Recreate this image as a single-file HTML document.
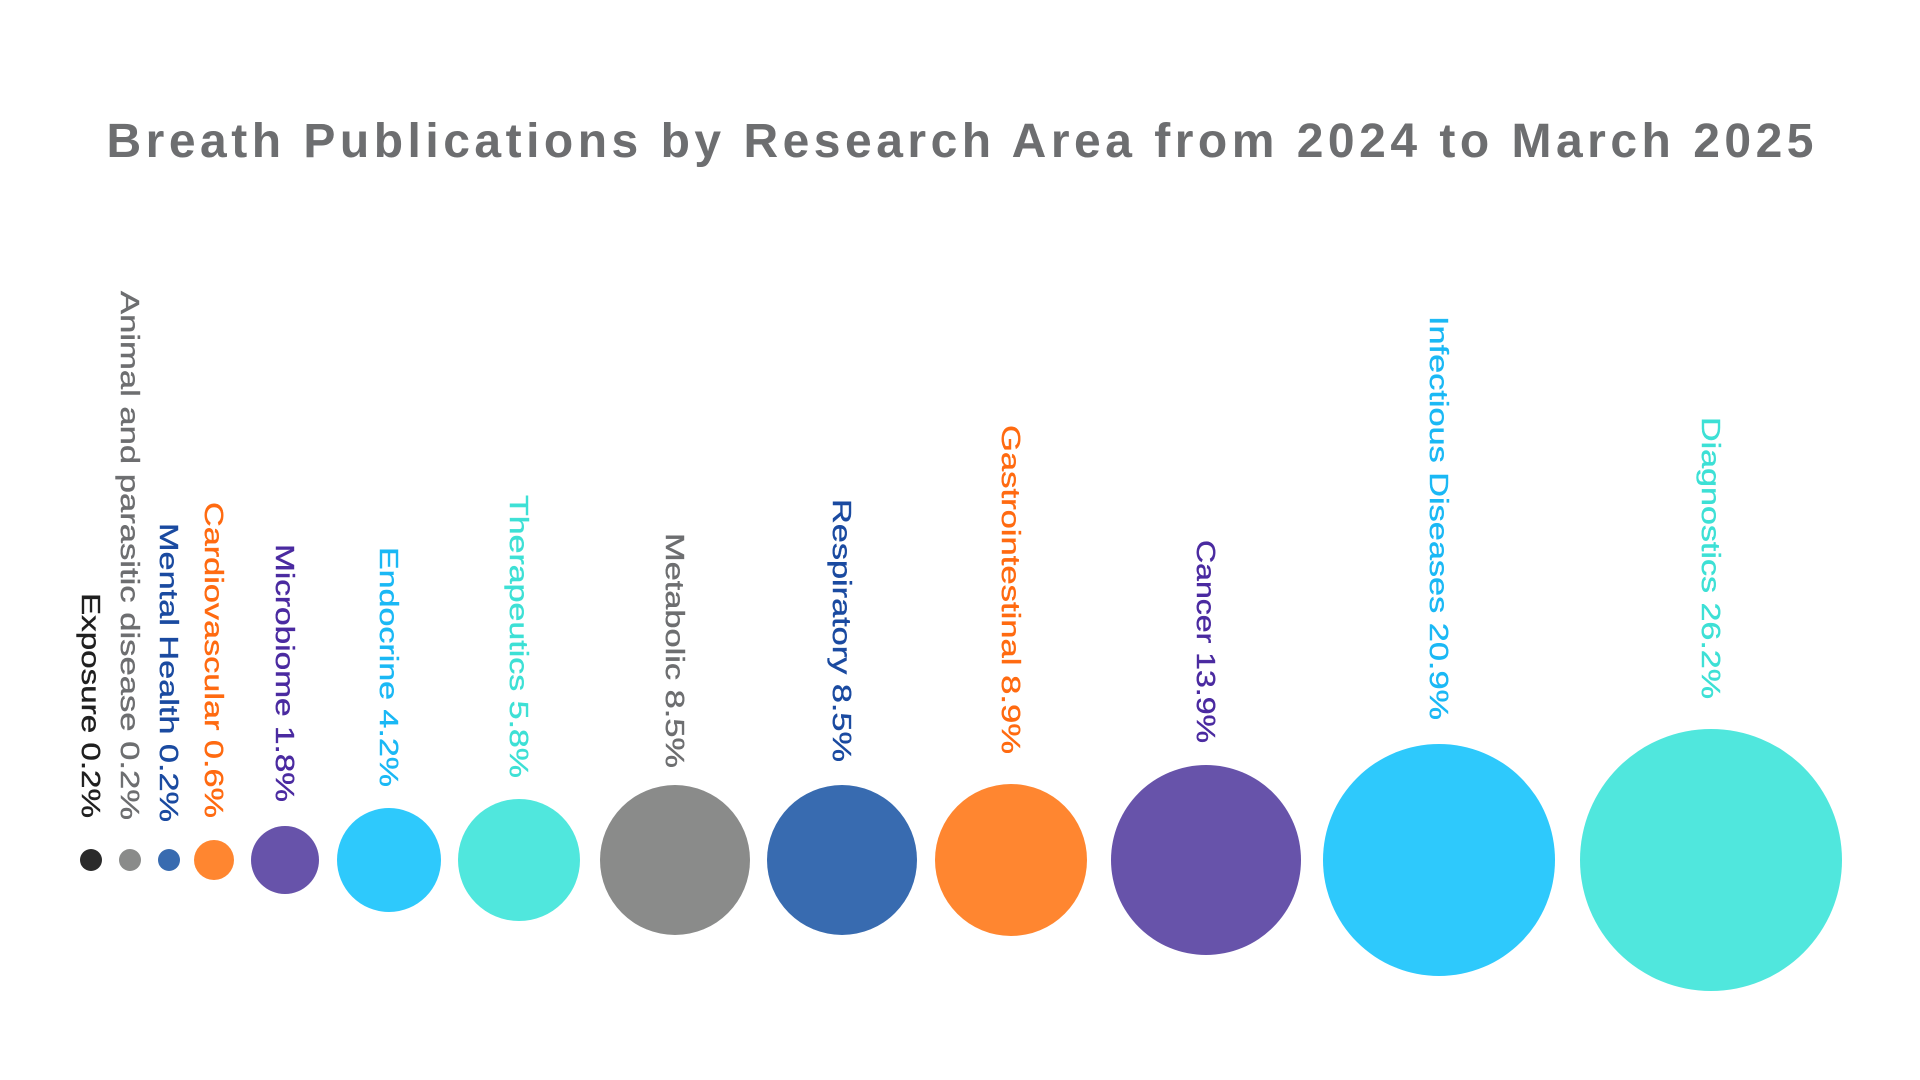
<!DOCTYPE html>
<html><head><meta charset="utf-8"><style>html,body{margin:0;padding:0;background:#fff;}svg{display:block;}</style></head>
<body>
<svg width="1920" height="1080" viewBox="0 0 1920 1080" xmlns="http://www.w3.org/2000/svg" font-family="Liberation Sans, sans-serif">
<rect width="1920" height="1080" fill="#fff"/>
<text x="960" y="157" text-anchor="middle" font-size="48" font-weight="bold" fill="#6d6e70" textLength="1707" lengthAdjust="spacing">Breath Publications by Research Area from 2024 to March 2025</text>
<g>
<circle cx="91" cy="860" r="11" fill="#2b2b2b"/>
<circle cx="130" cy="860" r="11" fill="#8a8b8a"/>
<circle cx="169" cy="860" r="11" fill="#386bb0"/>
<circle cx="214" cy="860" r="20" fill="#ff8630"/>
<circle cx="285" cy="860" r="34" fill="#6753aa"/>
<circle cx="389" cy="860" r="52" fill="#2ec9fc"/>
<circle cx="519" cy="860" r="61" fill="#50e7dd"/>
<circle cx="675" cy="860" r="75" fill="#8a8b8a"/>
<circle cx="842" cy="860" r="75" fill="#386bb0"/>
<circle cx="1011" cy="860" r="76" fill="#ff8630"/>
<circle cx="1206" cy="860" r="95" fill="#6753aa"/>
<circle cx="1439" cy="860" r="116" fill="#2ec9fc"/>
<circle cx="1711" cy="860" r="131" fill="#50e7dd"/>
</g>
<g font-size="26" text-anchor="end" dominant-baseline="central" stroke-width="0.4">
<text transform="translate(91,818) rotate(90)" fill="#1f1f1f" stroke="#1f1f1f" textLength="225" lengthAdjust="spacingAndGlyphs">Exposure 0.2%</text>
<text transform="translate(130,820) rotate(90)" fill="#6d6e70" stroke="#6d6e70" textLength="529" lengthAdjust="spacingAndGlyphs">Animal and parasitic disease 0.2%</text>
<text transform="translate(169,822) rotate(90)" fill="#1a4aa0" stroke="#1a4aa0" textLength="299" lengthAdjust="spacingAndGlyphs">Mental Health 0.2%</text>
<text transform="translate(214,818) rotate(90)" fill="#ff6a10" stroke="#ff6a10" textLength="316" lengthAdjust="spacingAndGlyphs">Cardiovascular 0.6%</text>
<text transform="translate(285,802) rotate(90)" fill="#4a2aa0" stroke="#4a2aa0" textLength="258" lengthAdjust="spacingAndGlyphs">Microbiome 1.8%</text>
<text transform="translate(389,787) rotate(90)" fill="#1ab8f5" stroke="#1ab8f5" textLength="240" lengthAdjust="spacingAndGlyphs">Endocrine 4.2%</text>
<text transform="translate(519,778) rotate(90)" fill="#3de0d5" stroke="#3de0d5" textLength="283" lengthAdjust="spacingAndGlyphs">Therapeutics 5.8%</text>
<text transform="translate(675,768) rotate(90)" fill="#6d6e70" stroke="#6d6e70" textLength="235" lengthAdjust="spacingAndGlyphs">Metabolic 8.5%</text>
<text transform="translate(842,762) rotate(90)" fill="#1a4aa0" stroke="#1a4aa0" textLength="263" lengthAdjust="spacingAndGlyphs">Respiratory 8.5%</text>
<text transform="translate(1011,754) rotate(90)" fill="#ff6a10" stroke="#ff6a10" textLength="329" lengthAdjust="spacingAndGlyphs">Gastrointestinal 8.9%</text>
<text transform="translate(1206,743) rotate(90)" fill="#4a2aa0" stroke="#4a2aa0" textLength="203" lengthAdjust="spacingAndGlyphs">Cancer 13.9%</text>
<text transform="translate(1439,720) rotate(90)" fill="#1ab8f5" stroke="#1ab8f5" textLength="404" lengthAdjust="spacingAndGlyphs">Infectious Diseases 20.9%</text>
<text transform="translate(1711,699) rotate(90)" fill="#3de0d5" stroke="#3de0d5" textLength="282" lengthAdjust="spacingAndGlyphs">Diagnostics 26.2%</text>
</g>
</svg>
</body></html>
